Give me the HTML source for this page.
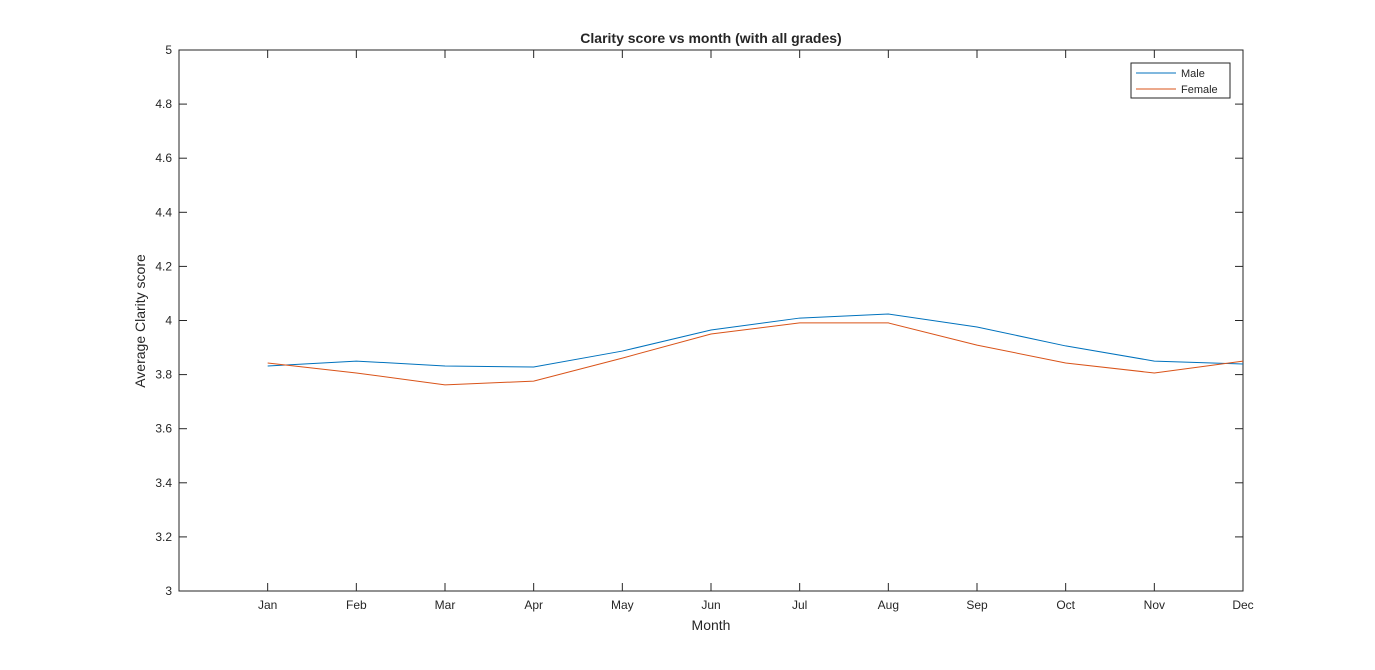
<!DOCTYPE html>
<html><head><meta charset="utf-8"><style>
body{margin:0;background:#fff;}
svg text{font-family:"Liberation Sans","DejaVu Sans",sans-serif;fill:#262626;}
</style></head><body>
<svg id="chart" width="1375" height="665" xmlns="http://www.w3.org/2000/svg">
<rect x="0" y="0" width="1375" height="665" fill="#fff"/>
<text x="711" y="43" text-anchor="middle" font-size="14" font-weight="bold" fill="#000">Clarity score vs month (with all grades)</text>
<g id="axes"></g>
<g id="series"></g>
<text x="711" y="630" text-anchor="middle" font-size="14">Month</text>
<text transform="translate(145,321) rotate(-90)" text-anchor="middle" font-size="14">Average Clarity score</text>
<g>
<rect x="1131" y="63" width="99" height="35" fill="#fff" stroke="#262626" stroke-width="1"/>
<line x1="1136" y1="73" x2="1176" y2="73" stroke="#0072bd" stroke-width="1"/>
<text x="1181" y="77" font-size="11">Male</text>
<line x1="1136" y1="89" x2="1176" y2="89" stroke="#d95319" stroke-width="1"/>
<text x="1181" y="93" font-size="11">Female</text>
</g>
</svg>
<script>
const months=["Jan","Feb","Mar","Apr","May","Jun","Jul","Aug","Sep","Oct","Nov","Dec"];
const maleValues=[3.832,3.850,3.832,3.828,3.887,3.965,4.009,4.024,3.976,3.906,3.850,3.839];
const femaleValues=[3.843,3.806,3.762,3.776,3.861,3.950,3.991,3.991,3.909,3.843,3.806,3.850];
const yTicks=["3","3.2","3.4","3.6","3.8","4","4.2","4.4","4.6","4.8","5"];
const L=179,R=1243,T=50,B=591;
const xs=i=>L+(i+1)*(R-L)/12;
const ys=v=>B-(v-3)/2*(B-T);
const NS="http://www.w3.org/2000/svg";
function mk(tag,attrs,parent){const e=document.createElementNS(NS,tag);for(const k in attrs)e.setAttribute(k,attrs[k]);parent.appendChild(e);return e;}
const ax=document.getElementById('axes');
const box=mk('rect',{x:L,y:T,width:R-L,height:B-T,fill:'none',stroke:'#262626','stroke-width':1},ax);


yTicks.forEach(t=>{const y=ys(parseFloat(t));
mk('line',{x1:L,y1:y,x2:L+8,y2:y,stroke:'#262626'},ax);
mk('line',{x1:R,y1:y,x2:R-8,y2:y,stroke:'#262626'},ax);
const tx=mk('text',{x:L-7,y:y+4,'text-anchor':'end','font-size':12},ax);tx.textContent=t;

});
months.forEach((m,i)=>{const x=xs(i);
mk('line',{x1:x,y1:B,x2:x,y2:B-8,stroke:'#262626'},ax);
mk('line',{x1:x,y1:T,x2:x,y2:T+8,stroke:'#262626'},ax);
const tx=mk('text',{x:x,y:B+18,'text-anchor':'middle','font-size':12},ax);tx.textContent=m;

});
const sg=document.getElementById('series');
[[maleValues,'#0072bd','male-line'],[femaleValues,'#d95319','female-line']].forEach(([vals,c,n])=>{
const p=mk('polyline',{points:vals.map((v,i)=>xs(i)+','+ys(v)).join(' '),fill:'none',stroke:c,'stroke-width':1},sg);

});
</script>
</body></html>
